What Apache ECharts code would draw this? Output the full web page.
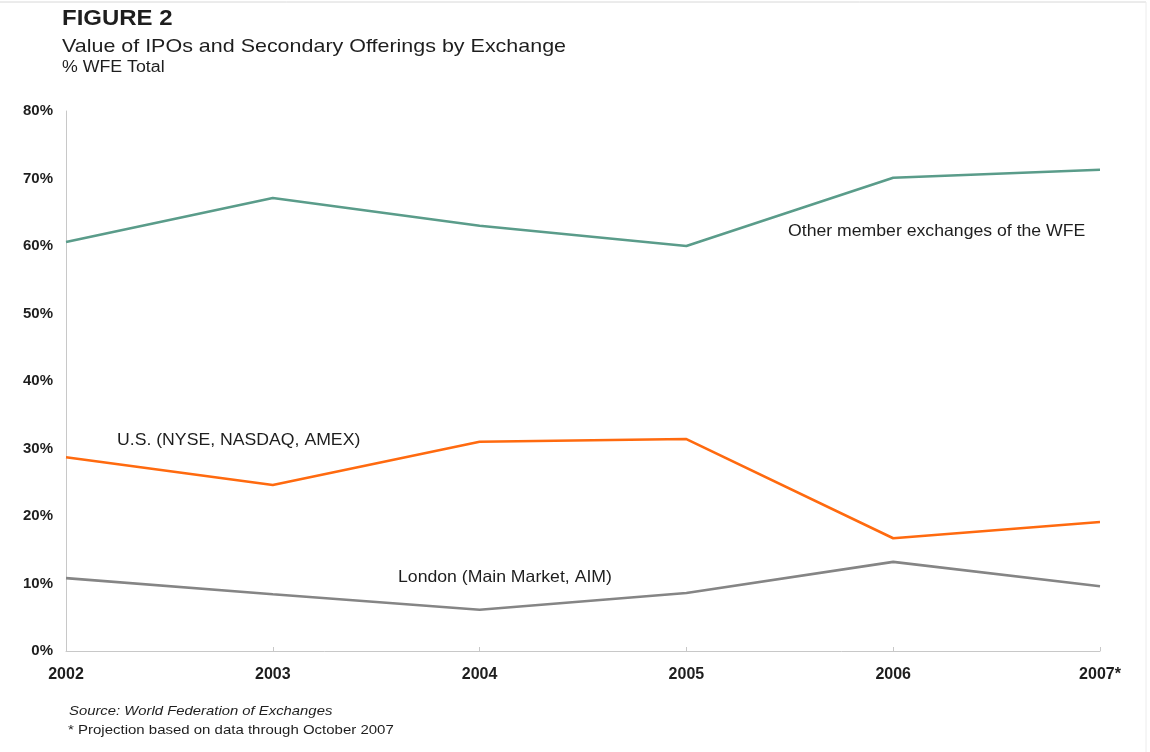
<!DOCTYPE html>
<html><head><meta charset="utf-8">
<script src="https://cdn.jsdelivr.net/npm/echarts@6/dist/echarts.min.js"></script>
<style>html,body{margin:0;padding:0;background:#fff}#c{width:1150px;height:752px}</style>
</head><body><div id="c"></div>
<script>
var years = ['2002','2003','2004','2005','2006','2007*'];
var otherWFE = [60.6, 67.1, 63.0, 60.0, 70.1, 71.3];
var usExch = [28.7, 24.6, 31.0, 31.4, 16.7, 19.1];
var london = [10.8, 8.4, 6.1, 8.6, 13.2, 9.6];
var yTicks = [0,10,20,30,40,50,60,70,80];

var F = '"Liberation Sans", Arial, sans-serif';
var chart = echarts.init(document.getElementById('c'), null, {renderer:'canvas'});
function ser(name, data, color){
  return {name:name, type:'line', data:data, symbol:'none', smooth:false,
    lineStyle:{color:color, width:2.6}, itemStyle:{color:color}, z:3};
}
function txt(s, x, y, font, sx){
  return {type:'text', x:x, y:y, scaleX:sx, z:10,
    style:{text:s, fill:'#1e1e1e', font:font, verticalAlign:'top', align:'left'}};
}
chart.setOption({
  backgroundColor:'#ffffff',
  animation:false,
  grid:{left:66, right:50, top:111, bottom:101, containLabel:false},
  xAxis:{type:'category', data:years, boundaryGap:false,
    axisLine:{lineStyle:{color:'#c8c8c8', width:1}},
    axisTick:{show:true, alignWithLabel:true, length:4, inside:true, lineStyle:{color:'#c8c8c8'}},
    axisLabel:{color:'#1e1e1e', fontFamily:F, fontWeight:'bold', fontSize:16, margin:16},
    splitLine:{show:false}},
  yAxis:{type:'value', min:yTicks[0], max:yTicks[yTicks.length-1], interval:10,
    axisLine:{show:true, lineStyle:{color:'#c8c8c8', width:1}},
    axisTick:{show:false},
    splitLine:{show:false},
    axisLabel:{color:'#1e1e1e', fontFamily:F, fontWeight:'bold', fontSize:15, margin:13,
      formatter:function(v){return v+'%';}}},
  series:[
    ser('Other member exchanges of the WFE', otherWFE, '#5a9c8a'),
    ser('U.S. (NYSE, NASDAQ, AMEX)', usExch, '#ff6a0f'),
    ser('London (Main Market, AIM)', london, '#858585')
  ],
  graphic:[
    {type:'line', shape:{x1:0, y1:2, x2:1146, y2:2}, style:{stroke:'#d8d8d8', lineWidth:1}},
    {type:'line', shape:{x1:1146, y1:2, x2:1146, y2:752}, style:{stroke:'#ececec', lineWidth:1}},
    txt('FIGURE 2', 62, 8, 'bold 22px '+F, 1.09),
    txt('Value of IPOs and Secondary Offerings by Exchange', 62, 37, '19px '+F, 1.13),
    txt('% WFE Total', 62, 60, '16px '+F, 1.11),
    txt('Other member exchanges of the WFE', 788, 223, '16.5px '+F, 1.07),
    txt('U.S. (NYSE, NASDAQ, AMEX)', 117, 432, '16.5px '+F, 1.07),
    txt('London (Main Market, AIM)', 398, 569, '16.5px '+F, 1.07),
    txt('Source: World Federation of Exchanges', 69, 704, 'italic 13.5px '+F, 1.1),
    txt('* Projection based on data through October 2007', 68, 723, '13.5px '+F, 1.11)
  ]
});
</script></body></html>
